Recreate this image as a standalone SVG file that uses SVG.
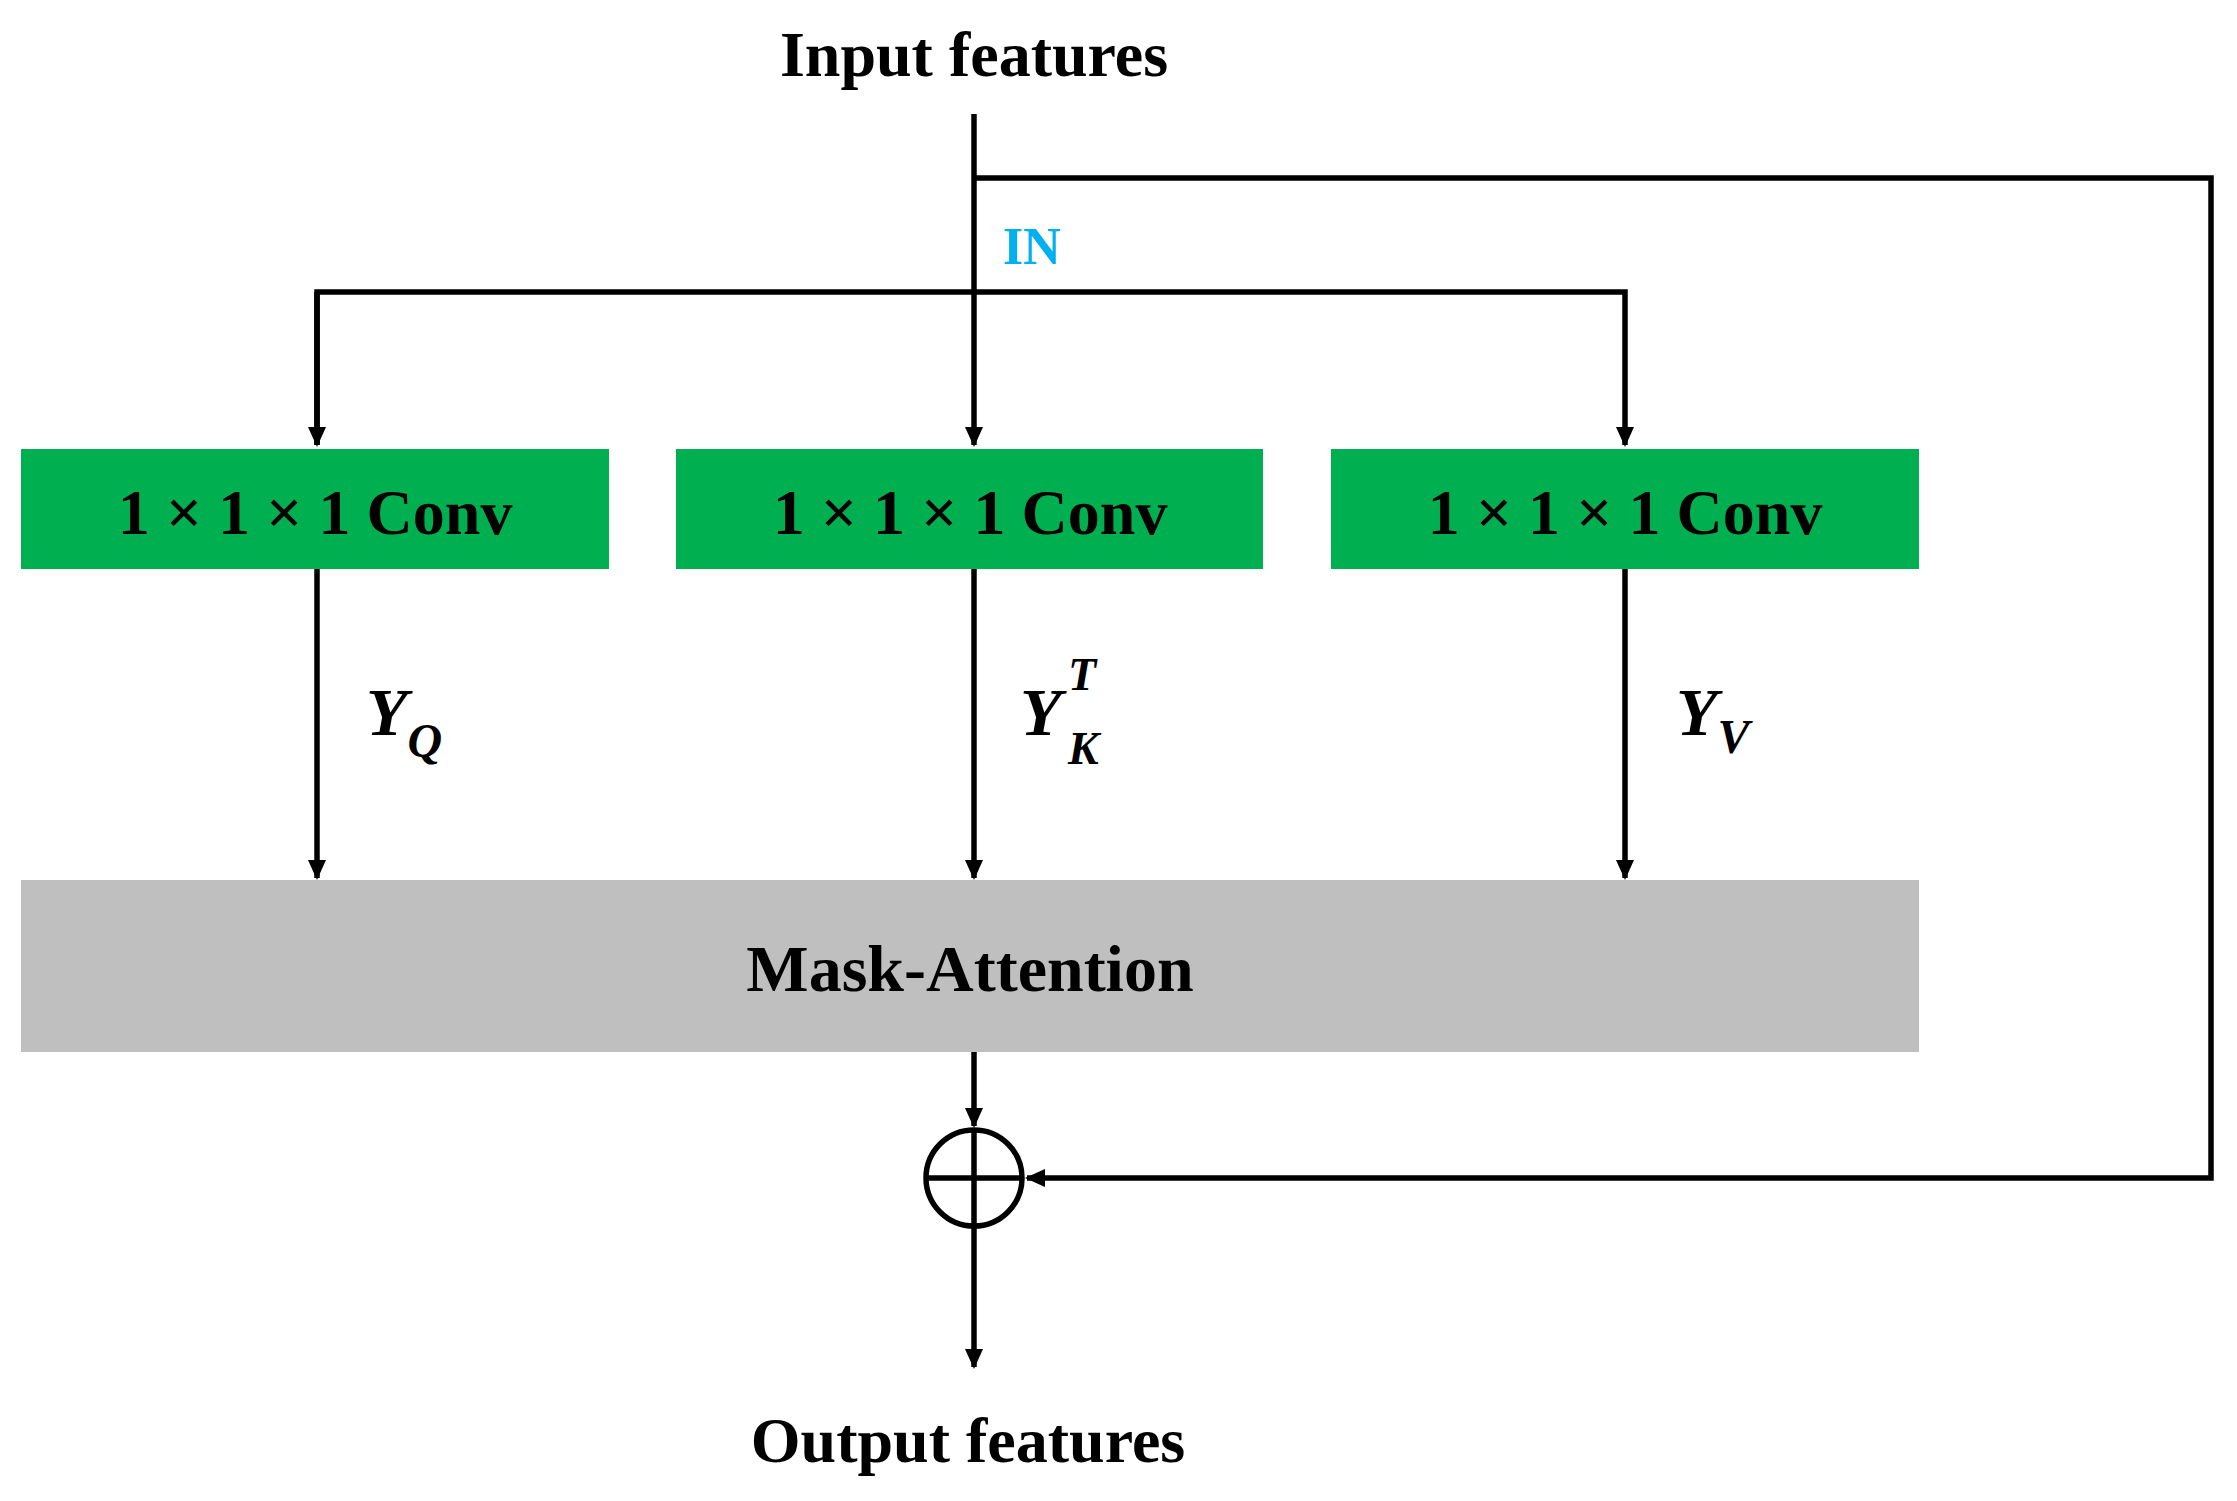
<svg xmlns="http://www.w3.org/2000/svg" width="2237" height="1501" viewBox="0 0 2237 1501">
<style>
.t{font-family:"Liberation Serif",serif;font-weight:bold;fill:#000}
.c{stroke:#000;stroke-width:5.5;fill:none}
.m{font-family:"Liberation Serif",serif;font-weight:bold;font-style:italic;fill:#000}
</style>
<defs>
<marker id="a" markerUnits="userSpaceOnUse" markerWidth="20" markerHeight="20" refX="18" refY="9" orient="auto"><path d="M0,0 L20,9 L0,18 Z" fill="#000"/></marker>
</defs>
<rect width="2237" height="1501" fill="#fff"/>
<text class="t" x="974" y="76" font-size="64" text-anchor="middle">Input features</text>
<text x="1003" y="264" font-family="Liberation Serif,serif" font-weight="bold" font-size="52" fill="#00B0F0">IN</text>
<g id="connectors">
<path class="c" d="M974,114 V445" marker-end="url(#a)"/>
<path class="c" d="M974,178 H2211 V1178 H1027" marker-end="url(#a)"/>
<path class="c" d="M317,445 V292 H1625 V445" marker-end="url(#a)"/>
<path class="c" d="M317,292 V445" marker-end="url(#a)"/>
<path class="c" d="M317,569 V878" marker-end="url(#a)"/>
<path class="c" d="M974,569 V878" marker-end="url(#a)"/>
<path class="c" d="M1625,569 V878" marker-end="url(#a)"/>
<path class="c" d="M974,1052 V1126" marker-end="url(#a)"/>
<path class="c" d="M974,1227 V1367" marker-end="url(#a)"/>
</g>
<g id="conv1"><rect x="21" y="449" width="588" height="120" fill="#00B050"/><text class="t" x="315" y="534" font-size="64" text-anchor="middle">1 × 1 × 1 Conv</text></g>
<g id="conv2"><rect x="676" y="449" width="587" height="120" fill="#00B050"/><text class="t" x="970" y="534" font-size="64" text-anchor="middle">1 × 1 × 1 Conv</text></g>
<g id="conv3"><rect x="1331" y="449" width="588" height="120" fill="#00B050"/><text class="t" x="1625" y="534" font-size="64" text-anchor="middle">1 × 1 × 1 Conv</text></g>
<g id="labels">
<text class="m" x="366" y="735" font-size="68">Y<tspan font-size="48" dy="22">Q</tspan></text>
<text class="m" x="1020" y="735" font-size="68">Y</text>
<text class="m" x="1068" y="690" font-size="46">T</text>
<text class="m" x="1068" y="764" font-size="46">K</text>
<text class="m" x="1676" y="735" font-size="68">Y<tspan font-size="48" dy="18">V</tspan></text>
</g>
<g id="mask"><rect x="21" y="880" width="1898" height="172" fill="#BFBFBF"/><text class="t" x="970" y="991" font-size="66" text-anchor="middle">Mask-Attention</text></g>
<g id="sum"><circle cx="974" cy="1178" r="48" fill="#fff" stroke="#000" stroke-width="5.5"/><path class="c" d="M926,1178 H1022 M974,1130 V1226"/></g>
<text class="t" x="968" y="1462" font-size="64" text-anchor="middle">Output features</text>
</svg>
